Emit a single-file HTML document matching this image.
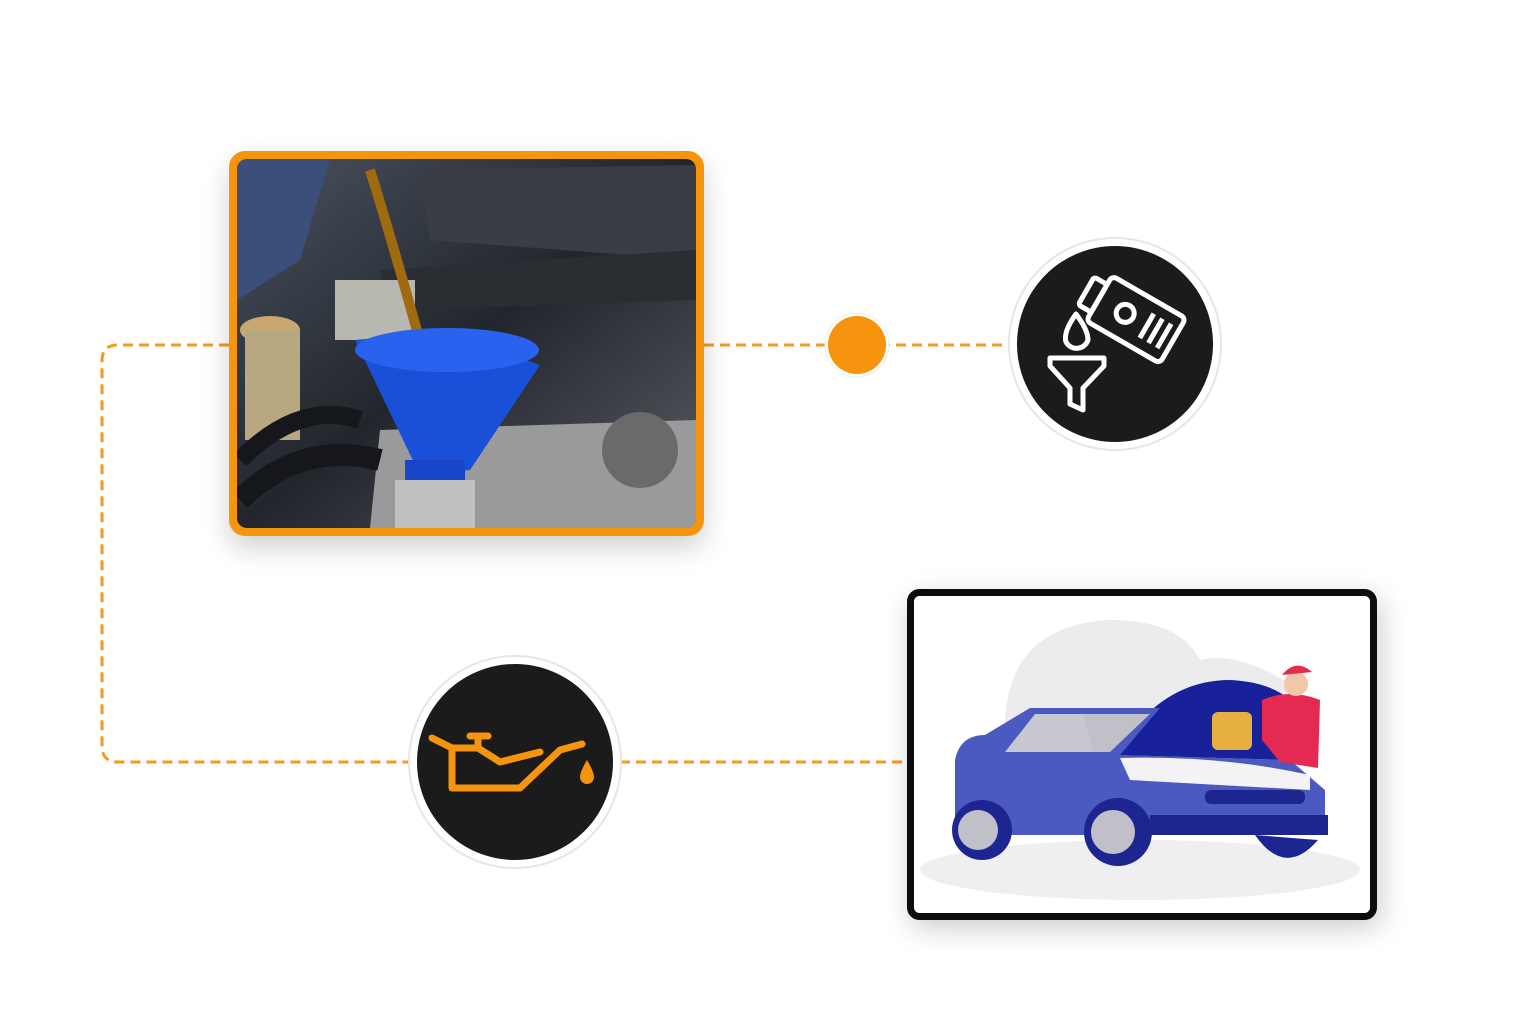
<!DOCTYPE html>
<html><head><meta charset="utf-8"><style>
html,body{margin:0;padding:0;background:#fff;}
svg{display:block;}
</style></head><body>
<svg width="1536" height="1024" viewBox="0 0 1536 1024" xmlns="http://www.w3.org/2000/svg">
<defs>
<filter id="sh" x="-20%" y="-20%" width="140%" height="140%"><feGaussianBlur stdDeviation="14"/></filter>
<linearGradient id="eng" x1="0" y1="0" x2="1" y2="1">
<stop offset="0" stop-color="#4a5260"/><stop offset="0.5" stop-color="#22262c"/><stop offset="1" stop-color="#5a5e64"/>
</linearGradient>
<clipPath id="ph"><rect x="237" y="159" width="459" height="369" rx="10"/></clipPath>
</defs>
<!-- dashed connectors -->
<g fill="none" stroke="#f39a1a" stroke-width="3" stroke-dasharray="10 6">
<path d="M229 345 H118 Q102 345 102 361 V746 Q102 762 118 762 H410"/>
<path d="M704 345 H1010"/>
<path d="M620 762 H907"/>
</g>
<!-- photo card -->
<rect x="229" y="151" width="475" height="385" rx="16" fill="#000" opacity="0.18" filter="url(#sh)" transform="translate(0,12)"/>
<rect x="229" y="151" width="475" height="385" rx="16" fill="#f7940e"/>
<g clip-path="url(#ph)">
<rect x="237" y="159" width="459" height="369" fill="url(#eng)"/>
<path d="M237 159 H330 L300 260 L237 300 Z" fill="#3c4e7a"/>
<path d="M420 170 L696 165 V260 L430 240 Z" fill="#3a3e44"/>
<path d="M380 270 L696 250 V300 L390 310 Z" fill="#2a2d32"/>
<rect x="335" y="280" width="80" height="60" fill="#b8b8b0"/>
<ellipse cx="270" cy="330" rx="30" ry="14" fill="#c8a870"/>
<rect x="245" y="330" width="55" height="110" fill="#b8a882"/>
<path d="M380 430 L696 420 V528 H370 Z" fill="#9a9a9c"/>
<circle cx="640" cy="450" r="38" fill="#6a6a6a"/>
<path d="M240 500 Q300 440 380 460" stroke="#15171a" stroke-width="22" fill="none"/>
<path d="M240 460 Q300 400 360 420" stroke="#15171a" stroke-width="18" fill="none"/>
<path d="M370 170 Q395 250 425 360" stroke="#a06a10" stroke-width="10" fill="none"/>
<path d="M355 340 Q440 330 540 365 L470 470 L420 475 Z" fill="#1a4fd8"/>
<ellipse cx="447" cy="350" rx="92" ry="22" fill="#2a62f0"/>
<rect x="405" y="460" width="60" height="30" fill="#1746c8"/>
<rect x="395" y="480" width="80" height="48" fill="#c0c0c0"/>
</g>
<!-- orange dot -->
<circle cx="857" cy="345" r="32" fill="#fff" stroke="#eee"/>
<circle cx="857" cy="345" r="29" fill="#f7940e"/>
<!-- oil bottle circle -->
<circle cx="1115" cy="344" r="106" fill="#fff" stroke="#e6e6e6" stroke-width="2"/>
<circle cx="1115" cy="344" r="98" fill="#1b1b1b"/>
<g fill="none" stroke="#fff" stroke-width="5" stroke-linejoin="round">
<g transform="rotate(30 1130 315)">
<rect x="1095" y="290" width="85" height="52" rx="5"/>
<rect x="1080" y="300" width="15" height="32" rx="3"/>
<circle cx="1125" cy="316" r="9"/>
<path d="M1150 302 V330 M1160 302 V330 M1170 302 V330"/>
</g>
<path d="M1076 314 Q1063 332 1066 342 A12 12 0 0 0 1088 340 Q1088 330 1076 314 Z"/>
<path d="M1050 358 H1104 V366 L1083 388 V410 L1070 404 V388 L1050 366 Z"/>
</g>
<!-- oil can circle -->
<circle cx="515" cy="762" r="106" fill="#fff" stroke="#e6e6e6" stroke-width="2"/>
<circle cx="515" cy="762" r="98" fill="#1b1b1b"/>
<g fill="none" stroke="#f7940e" stroke-width="7" stroke-linejoin="round" stroke-linecap="round">
<path d="M452 748 V788 H520 L560 750 L582 744"/>
<path d="M452 748 H478 L500 762 L540 752"/>
<path d="M432 738 L452 748"/>
<path d="M478 748 V738 M470 736 H488"/>
</g>
<path d="M587 760 Q580 772 580 777 A7 7 0 0 0 594 777 Q594 772 587 760 Z" fill="#f7940e"/>
<!-- car card -->
<rect x="907" y="589" width="470" height="331" rx="12" fill="#000" opacity="0.2" filter="url(#sh)" transform="translate(4,8)"/>
<rect x="910.5" y="592.5" width="463" height="324" rx="9" fill="#fff" stroke="#0c0c0c" stroke-width="7"/>
<path d="M1005 720 Q1010 625 1110 620 Q1180 620 1200 660 Q1240 650 1300 690 L1300 760 L1005 760 Z" fill="#ececee"/>
<ellipse cx="1140" cy="870" rx="220" ry="30" fill="#efeff1"/>
<path d="M1115 755 Q1160 680 1230 680 Q1270 682 1290 700 L1290 760 Z" fill="#18209a"/>
<path d="M955 760 Q960 735 985 735 L1030 708 H1160 L1120 755 L1290 760 L1325 790 V835 H955 Z" fill="#4a5ac0"/>
<path d="M1005 752 L1035 714 H1085 L1095 752 Z" fill="#c8c8d0"/>
<path d="M1083 714 H1150 L1110 752 H1093 Z" fill="#c0c0c8"/>
<path d="M1120 758 Q1220 755 1310 775 L1310 790 L1130 780 Z" fill="#f3f3f5"/>
<rect x="1205" y="790" width="100" height="14" rx="6" fill="#1d2690"/>
<rect x="1150" y="815" width="178" height="20" fill="#1d2690"/>
<circle cx="982" cy="830" r="30" fill="#1d2690"/>
<circle cx="978" cy="830" r="20" fill="#c0c0c8"/>
<circle cx="1118" cy="832" r="34" fill="#1d2690"/>
<circle cx="1113" cy="832" r="22" fill="#c0c0c8"/>
<path d="M1255 835 Q1285 878 1318 840 Z" fill="#1d2690"/>
<rect x="1212" y="712" width="40" height="38" rx="6" fill="#e8b040"/>
<path d="M1262 700 Q1290 688 1320 700 L1318 768 L1280 762 L1262 740 Z" fill="#e42a50"/>
<circle cx="1296" cy="684" r="12" fill="#f0c8a8"/>
<path d="M1282 675 Q1296 658 1312 672 Z" fill="#e42a50"/>
</svg>
</body></html>
